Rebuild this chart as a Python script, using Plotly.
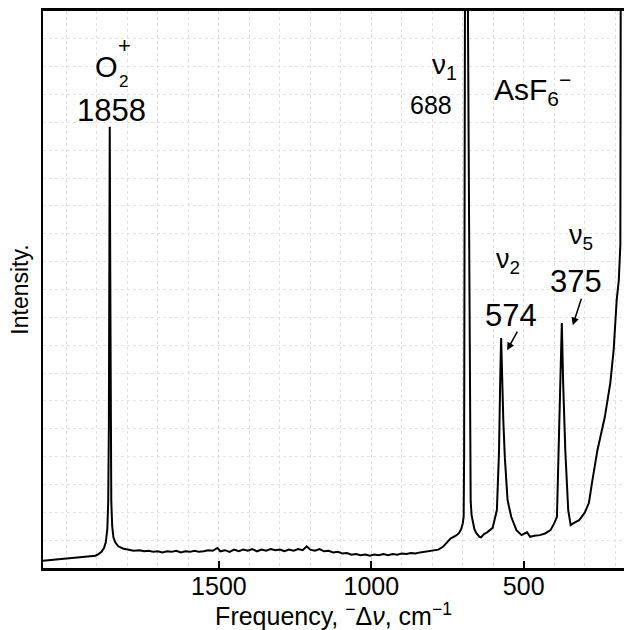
import plotly.graph_objects as go

# Raman shift (cm^-1) and relative intensity
wavenumber = [2080, 2060, 2040, 2020, 2000, 1980, 1960, 1940, 1920, 1905, 1895, 1885,
              1877, 1871, 1866, 1863, 1861, 1859.5, 1858, 1856.5, 1855, 1853, 1850, 1846,
              1840, 1830, 1815, 1800, 1780, 1760, 1745, 1730, 1715, 1700, 1685, 1670,
              1655, 1640, 1625, 1610, 1595, 1580, 1565, 1550, 1535, 1520, 1505, 1495,
              1480, 1465, 1450, 1435, 1420, 1405, 1390, 1375, 1360, 1345, 1330, 1315,
              1300, 1285, 1270, 1255, 1240, 1225, 1212, 1200, 1185, 1170, 1155, 1140,
              1125, 1110, 1095, 1080, 1065, 1050, 1035, 1020, 1005, 990, 975, 960, 945,
              930, 915, 900, 885, 870, 855, 840, 825, 810, 795, 780, 765, 750, 740, 730,
              720, 712, 705, 700, 697, 695.5, 694.5, 693, 690, 686, 683, 679, 676.5,
              675.5, 674, 671, 667, 662, 656, 650, 645, 640, 630, 620, 610, 602, 588,
              581, 577, 574, 567, 562, 553, 541, 524, 507, 497, 489, 479, 465, 447, 430,
              412, 400, 391, 385, 379, 375, 370.5, 363.5, 354, 346, 335, 318, 300, 286,
              276, 258, 234, 216, 205, 195, 188, 183, 181]
intensity = [1.3, 1.4, 1.5, 1.5, 1.6, 1.7, 1.8, 1.9, 2.0, 2.2, 2.5, 2.9,
             3.6, 4.6, 7.0, 12, 25, 55, 79.2, 55, 25, 12, 7.5, 5.5,
             4.6, 3.9, 3.5, 3.3, 3.1, 3.2, 3.0, 3.1, 2.9, 3.0, 2.8, 3.0,
             2.9, 3.1, 2.8, 3.0, 2.9, 3.1, 2.9, 3.0, 3.2, 3.1, 3.6, 3.0,
             3.2, 2.9, 3.3, 3.0, 3.3, 3.1, 3.4, 3.0, 3.3, 3.1, 3.4, 3.2,
             3.3, 3.0, 3.3, 3.1, 3.4, 3.2, 3.9, 3.3, 3.1, 3.4, 3.0, 3.1,
             2.8, 2.9, 2.6, 2.7, 2.4, 2.5, 2.3, 2.4, 2.2, 2.4, 2.3, 2.5, 2.3,
             2.5, 2.4, 2.6, 2.5, 2.7, 2.6, 2.8, 2.9, 3.0, 3.1, 3.3, 3.8, 4.6, 5.3, 5.6,
             5.9, 6.3, 7.0, 8.0, 9.2, 20, 50, 100, 180, 180, 100, 60, 35,
             15, 12, 9.5, 8.0, 7.0, 6.3, 5.9, 5.6, 5.5, 6.1, 6.4, 6.8, 7.2, 10.4,
             21, 34, 41.3, 26.6, 19.9, 12.2, 9.2, 6.8, 5.9, 6.2, 6.4, 5.6, 5.8, 5.9, 6.2,
             6.8, 8.0, 9.2, 21, 33, 44, 33, 21, 10.4, 7.7, 8.1, 8.6, 9.9, 11.7,
             15.3, 21.2, 27.1, 33.2, 39.1, 48.1, 51.7, 58, 130]

tick_values = [1500, 1000, 500]
tick_labels = ["1500", "1000", "500"]

FONT = "Liberation Sans, Arial, sans-serif"

fig = go.Figure()
fig.add_trace(go.Scatter(x=wavenumber, y=intensity, mode="lines",
                         line=dict(color="black", width=2), showlegend=False,
                         hoverinfo="skip"))

def label(text, x, y, size, xshift=0):
    fig.add_annotation(x=x, y=y, xref="x", yref="y", text=text, showarrow=False,
                       xshift=xshift, xanchor="center", yanchor="middle",
                       font=dict(family=FONT, size=size, color="black"))

def arrow(x, y, xshift, ax, ay):
    fig.add_annotation(x=x, y=y, xref="x", yref="y", text="", showarrow=True,
                       xshift=xshift, ax=ax, ay=ay, arrowhead=2, arrowsize=1,
                       arrowwidth=1.5, arrowcolor="black")

# O2+ band
label("O", 1858, 89.9, 29, xshift=-3)
label("2", 1858, 87.4, 17, xshift=14)
label("+", 1858, 93.8, 22, xshift=15)
label("1858", 1858, 82.2, 31, xshift=2)
# AsF6- bands
label("ν<sub>1</sub>", 688, 90.0, 28, xshift=-22)
label("688", 688, 83.1, 25, xshift=-35)
label("AsF<sub>6</sub><sup>−</sup>", 688, 86.0, 30, xshift=66)
label("ν<sub>2</sub>", 574, 55.1, 27, xshift=7)
label("574", 574, 45.4, 31, xshift=10)
arrow(574, 39.1, 6, 11, -20)
label("ν<sub>5</sub>", 375, 59.4, 27, xshift=19)
label("375", 375, 51.5, 31, xshift=14)
arrow(375, 43.6, 11, 9, -28)

fig.update_xaxes(
    range=[2077, 171], tickmode="array", tickvals=tick_values, ticktext=tick_labels,
    ticks="inside", ticklen=7, tickwidth=2, tickcolor="black",
    showline=True, linecolor="black", linewidth=2.5, mirror=True,
    showgrid=True, gridcolor="#d8d8d8", griddash="dot", gridwidth=1,
    minor=dict(dtick=100, tick0=0, showgrid=True, gridcolor="#e0e0e0",
               griddash="dot", gridwidth=1, ticks=""),
    zeroline=False, ticklabelstandoff=-6,
    tickfont=dict(family=FONT, size=25, color="black"),
    title=dict(text="Frequency, <sup>−</sup>Δ<i>ν</i>, cm<sup>−1</sup>",
               font=dict(family=FONT, size=25, color="black"), standoff=2),
)
fig.update_yaxes(
    range=[0, 100], showticklabels=False, ticks="",
    showline=True, linecolor="black", linewidth=2, mirror=False,
    showgrid=True, dtick=5, gridcolor="#e4e4e4", griddash="dot", gridwidth=1,
    zeroline=False,
    title=dict(text="Intensity.", font=dict(family=FONT, size=23, color="black"),
               standoff=6),
)
fig.update_layout(
    width=624, height=630,
    margin=dict(l=43, r=0, t=11, b=62),
    plot_bgcolor="white", paper_bgcolor="white",
    showlegend=False,
)
fig.write_html("out.html", config={"displayModeBar": False},
               post_script="document.body.style.margin='0px';")
